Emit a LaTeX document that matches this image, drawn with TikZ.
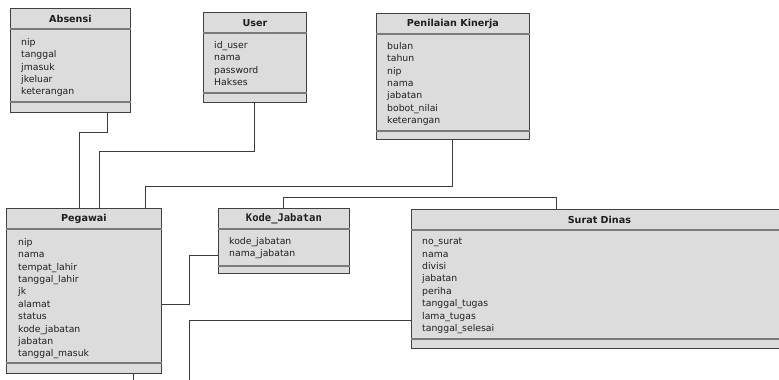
\documentclass[tikz,border=0pt]{standalone}
\usepackage{fontspec}
\setmainfont{DejaVu Sans}
\setmonofont{DejaVu Sans Mono}

\definecolor{boxfill}{HTML}{DCDCDC}
\definecolor{boxline}{HTML}{404040}
\definecolor{splitcol}{HTML}{7A7A7A}
\definecolor{linkcol}{HTML}{3A3A3A}
\definecolor{textcol}{HTML}{1E1E1E}

\tikzset{
  entity/.style={draw=boxline, fill=boxfill, line width=0.8pt, anchor=north west, inner sep=0pt},
  entitle/.style={font=\bfseries\fontsize{9.6}{11}\selectfont, text=textcol},
  attrs/.style={font=\fontsize{9.3}{12.4}\selectfont, align=left, anchor=north west,
    inner sep=0pt, execute at begin node=\strut, text=textcol},
  splitline/.style={draw=splitcol, line width=1.4pt},
  link/.style={draw=linkcol, line width=0.9pt}
}

\begin{document}
\begin{tikzpicture}[x=1pt, y=-1pt]
\useasboundingbox (0,0) rectangle (779,380);
\clip (0,0) rectangle (779,380);

% Draw tables
\node[entity, minimum width=120pt, minimum height=104pt] (absensi) at (10,8) {};
\node[entity, minimum width=103pt, minimum height=90pt] (user) at (203,12) {};
\node[entity, minimum width=153pt, minimum height=126pt] (penilaian) at (376,13) {};
\node[entity, minimum width=155pt, minimum height=165pt] (pegawai) at (6,208) {};
\node[entity, minimum width=131pt, minimum height=65pt] (kode) at (218,208) {};
\node[entity, minimum width=376pt, minimum height=139pt] (surat) at (411,209) {};

% Compartment lines
\foreach \nm/\low in {absensi/11, user/10, penilaian/9, pegawai/11, kode/8, surat/10} {
  \draw[splitline] ([yshift=-21pt]\nm.north west) -- ([yshift=-21pt]\nm.north east);
  \draw[splitline] ([yshift=\low pt]\nm.south west) -- ([yshift=\low pt]\nm.south east);
}

% Table names
\node[entitle] at ([yshift=-11pt]absensi.north) {Absensi};
\node[entitle] at ([yshift=-11pt]user.north) {User};
\node[entitle] at ([yshift=-11pt]penilaian.north) {Penilaian Kinerja};
\node[entitle] at ([yshift=-11pt]pegawai.north) {Pegawai};
\node[entitle, font=\ttfamily\bfseries\fontsize{10.5}{12}\selectfont] at ([yshift=-11pt]kode.north) {Kode\_Jabatan};
\node[entitle] at ([yshift=-11pt]surat.north) {Surat Dinas};

% Attributes
\node[attrs] at ([xshift=11pt,yshift=-30pt]absensi.north west)
  {nip\\tanggal\\jmasuk\\jkeluar\\keterangan};
\node[attrs] at ([xshift=11pt,yshift=-29pt]user.north west)
  {id\_user\\nama\\password\\Hakses};
\node[attrs] at ([xshift=11pt,yshift=-29pt]penilaian.north west)
  {bulan\\tahun\\nip\\nama\\jabatan\\bobot\_nilai\\keterangan};
\node[attrs] at ([xshift=12pt,yshift=-30pt]pegawai.north west)
  {nip\\nama\\tempat\_lahir\\tanggal\_lahir\\jk\\alamat\\status\\kode\_jabatan\\jabatan\\tanggal\_masuk};
\node[attrs] at ([xshift=11pt,yshift=-29pt]kode.north west)
  {kode\_jabatan\\nama\_jabatan};
\node[attrs] at ([xshift=11pt,yshift=-29pt]surat.north west)
  {no\_surat\\nama\\divisi\\jabatan\\periha\\tanggal\_tugas\\lama\_tugas\\tanggal\_selesai};

% Relations
\draw[link] ([xshift=-23pt]absensi.south east) -- ++(0,20) -| ([xshift=73pt]pegawai.north west);
\draw[link] (user.south) -- ++(0,49) -| ([xshift=93pt]pegawai.north west);
\draw[link] (penilaian.south) -- ++(0,47) -| ([xshift=139pt]pegawai.north west);
\draw[link] (kode.north) -- ++(0,-11) -| ([xshift=145pt]surat.north west);
\draw[link] ([yshift=-13.5pt]pegawai.east) -- ++(28,0) |- ([yshift=-14.5pt]kode.west);
\coordinate (lowend) at (189,385);
\draw[link] (lowend) |- ([yshift=-41.5pt]surat.west);
\coordinate (pegdown) at (133,385);
\draw[link] ([xshift=127pt]pegawai.south west) -- (pegdown);
\end{tikzpicture}
\end{document}
